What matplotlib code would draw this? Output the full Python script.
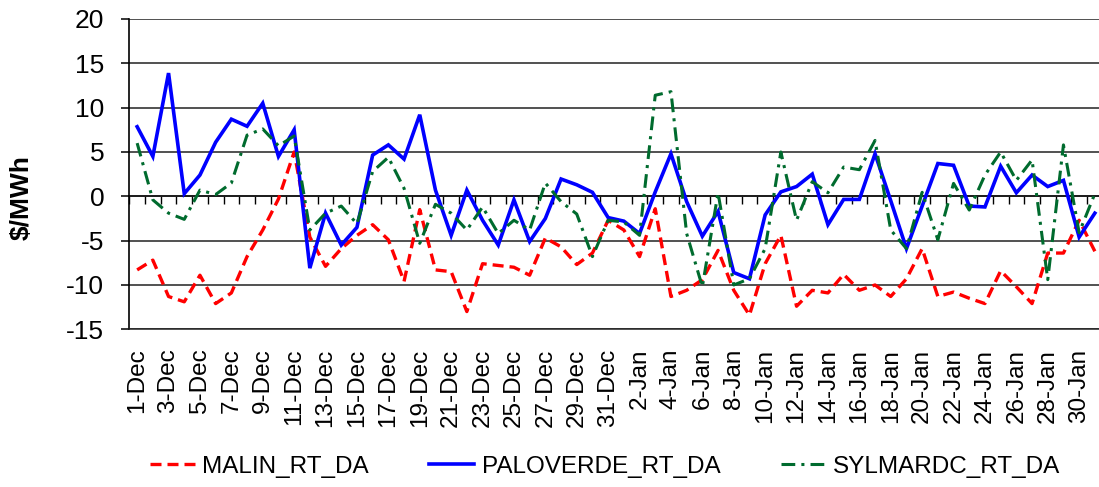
import matplotlib
matplotlib.use("Agg")
import matplotlib.pyplot as plt
import numpy as np

# ---------------- data ----------------
days = [f"{d}-Dec" for d in range(1, 32)] + [f"{d}-Jan" for d in range(1, 32)]

malin = [-8.3, -7.2, -11.3, -11.9, -8.9, -12.1, -10.9, -6.8, -3.8, -0.3,
         5.0, -4.6, -7.9, -5.9, -4.4, -3.2, -4.9, -9.6, -1.5, -8.3,
         -8.5, -13.0, -7.6, -7.8, -8.0, -8.9, -4.7, -5.7, -7.7, -6.4,
         -2.7, -3.8, -6.8, -1.4, -11.3, -10.6, -9.4, -6.1, -10.6, -13.4,
         -7.6, -4.4, -12.4, -10.6, -10.9, -8.8, -10.6, -10.0, -11.3, -9.3,
         -5.9, -11.3, -10.8, -11.5, -12.1, -8.4, -10.2, -12.1, -6.4, -6.4,
         -2.7, -6.2]

paloverde = [7.85, 4.5, 13.9, 0.3, 2.4, 6.1, 8.7, 7.9, 10.5, 4.5,
             7.5, -8.1, -1.9, -5.5, -3.5, 4.65, 5.8, 4.2, 9.2, 0.7,
             -4.4, 0.7, -2.7, -5.5, -0.4, -5.1, -2.5, 1.95, 1.3, 0.45,
             -2.4, -2.8, -4.2, 0.5, 4.8, -0.6, -4.5, -1.7, -8.6, -9.3,
             -2.1, 0.5, 1.1, 2.5, -3.2, -0.35, -0.35, 4.8, -0.5, -5.9,
             -1.1, 3.7, 3.5, -1.1, -1.2, 3.4, 0.4, 2.4, 1.1, 1.8,
             -4.6, -1.9]

sylmardc = [6.0, -0.4, -1.9, -2.6, 0.7, 0.2, 1.5, 6.9, 7.6, 5.7,
            6.8, -3.8, -1.9, -1.1, -3.1, 2.8, 4.4, 0.9, -5.3, -0.9,
            -1.9, -3.8, -1.2, -4.2, -2.7, -3.8, 1.5, -0.6, -2.0, -6.8,
            -2.7, -2.9, -4.4, 11.4, 11.8, -4.2, -10.2, 0.4, -10.0, -9.3,
            -5.9, 5.0, -2.7, 1.65, 0.4, 3.3, 3.0, 6.3, -3.8, -5.9,
            0.45, -4.9, 1.46, -1.55, 2.4, 5.0, 1.8, 4.1, -9.4, 5.8,
            -4.1, 0.3]

series_names = ["MALIN_RT_DA", "PALOVERDE_RT_DA", "SYLMARDC_RT_DA"]
y_ticks = [-15, -10, -5, 0, 5, 10, 15, 20]

# ---------------- figure ----------------
plt.rcParams['font.family'] = ['Liberation Sans', 'DejaVu Sans']
W, H = 1099, 487
fig = plt.figure(figsize=(W / 100, H / 100), dpi=100)
left_px, right_px, top_px, bot_px = 129.3, 1102.7, 19.0, 329.3
ax = fig.add_axes([left_px / W, 1 - bot_px / H,
                   (right_px - left_px) / W, (bot_px - top_px) / H])

x = np.arange(len(days))

ax.plot(x, malin, color='#FF0000', lw=2.4, dashes=(3.3, 1.8),
        label=series_names[0], zorder=3)
ax.plot(x, paloverde, color='#0000FF', lw=2.6, solid_joinstyle='miter',
        label=series_names[1], zorder=4)
ax.plot(x, sylmardc, color='#006B2E', lw=2.2, dashes=(4.5, 2.0, 1.0, 2.0),
        label=series_names[2], zorder=5)

ax.set_xlim(-0.5, len(days) - 0.5)
ax.set_ylim(min(y_ticks), max(y_ticks))
ax.set_yticks(y_ticks)
ax.set_yticklabels([str(v) for v in y_ticks])
ax.yaxis.grid(True, color='#222222', lw=1.1)
ax.set_axisbelow(True)

for s in ['top', 'right']:
    ax.spines[s].set_visible(False)
ax.spines['left'].set_color('black')
ax.spines['left'].set_linewidth(1.2)
ax.spines['bottom'].set_color('#222222')
ax.spines['bottom'].set_linewidth(1.1)

ax.tick_params(axis='y', direction='out', length=6, width=1.1,
               labelsize=19, pad=12)

ax.set_xticks(x[::2])
ax.set_xticklabels(days[::2], rotation=90, fontsize=17.5)
ax.tick_params(axis='x', length=0, pad=14)

# category axis crossing at zero with boundary tick marks
sec = ax.secondary_xaxis(0 - min(y_ticks) / (max(y_ticks) - min(y_ticks)))
sec.set_alignment('bottom')
sec.set_xticks(np.arange(-0.5, len(days) + 0.5, 1.0))
sec.set_xticklabels([])
sec.tick_params(axis='x', direction='out', length=6, width=1.0, color='black')
sec.spines['bottom'].set_color('black')
sec.spines['bottom'].set_linewidth(1.3)

ax.set_ylabel("$/MWh", fontsize=19, fontweight='bold')
ax.yaxis.set_label_coords((34 - left_px) / (right_px - left_px),
                          (bot_px - 198) / (bot_px - top_px))

fig.legend(loc='center', bbox_to_anchor=(605 / W, 1 - 467 / H), ncol=3,
           frameon=False, fontsize=17.5, handlelength=1.85, handletextpad=0.3,
           columnspacing=2.5)

fig.savefig("out.png", dpi=100)
